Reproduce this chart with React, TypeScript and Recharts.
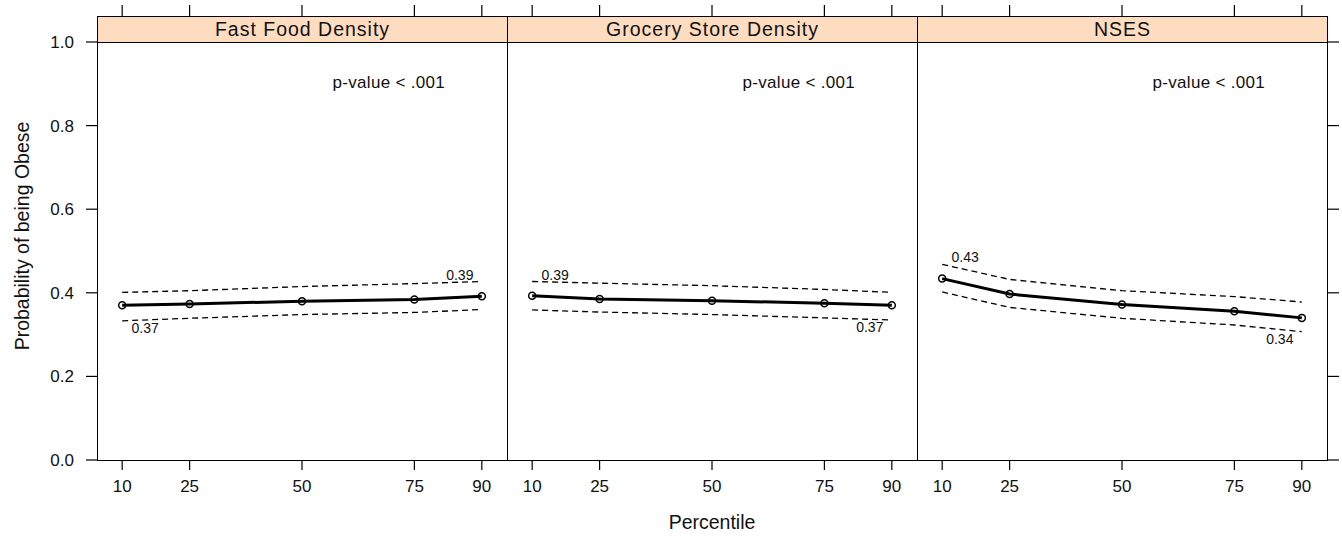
import { LineChart, Line, XAxis, YAxis, LabelList } from "recharts"

const percentiles = [10, 25, 50, 75, 90]
const yTicks = [0, 0.2, 0.4, 0.6, 0.8, 1.0]
const panelTitles = ["Fast Food Density", "Grocery Store Density", "NSES"]
const pValueText = "p-value < .001"

const fastFoodProb = [0.37, 0.373, 0.38, 0.384, 0.392]
const fastFoodUpper = [0.401, 0.405, 0.415, 0.422, 0.427]
const fastFoodLower = [0.333, 0.339, 0.348, 0.353, 0.36]
const fastFoodUpperLabels = ["", "", "", "", "0.39"]
const fastFoodLowerLabels = ["0.37", "", "", "", ""]

const groceryProb = [0.393, 0.385, 0.381, 0.375, 0.37]
const groceryUpper = [0.427, 0.423, 0.417, 0.408, 0.401]
const groceryLower = [0.359, 0.354, 0.348, 0.34, 0.335]
const groceryUpperLabels = ["0.39", "", "", "", ""]
const groceryLowerLabels = ["", "", "", "", "0.37"]

const nsesProb = [0.434, 0.397, 0.372, 0.356, 0.34]
const nsesUpper = [0.468, 0.432, 0.405, 0.391, 0.378]
const nsesLower = [0.402, 0.365, 0.339, 0.323, 0.307]
const nsesUpperLabels = ["0.43", "", "", "", ""]
const nsesLowerLabels = ["", "", "", "", "0.34"]

const FONT = '"Liberation Sans", Arial, sans-serif'
const STRIP = "#fddcbf"
const PLOT_LEFT = 97
const PANEL_W = 410
const PLOT_TOP = 42
const PLOT_H = 418
const STRIP_H = 26
const CHART_W = 522
const CHART_H = 538

const buildRows = (p: number[], up: number[], lo: number[], upL: string[], loL: string[]) =>
  percentiles.map((pct, i) => ({ pct, p: p[i], up: up[i], lo: lo[i], upL: upL[i], loL: loL[i] }))

const panels = [
  buildRows(fastFoodProb, fastFoodUpper, fastFoodLower, fastFoodUpperLabels, fastFoodLowerLabels),
  buildRows(groceryProb, groceryUpper, groceryLower, groceryUpperLabels, groceryLowerLabels),
  buildRows(nsesProb, nsesUpper, nsesLower, nsesUpperLabels, nsesLowerLabels),
]

const TopTick = (props: any) => {
  const { x, y } = props
  return <line x1={x} x2={x} y1={y - STRIP_H} y2={y - STRIP_H - 11} stroke="#000" strokeWidth={1.2} />
}

const EmptyTick = () => <g />

const bandLabel = (side: "up" | "lo") => (props: any) => {
  const { x, y, value, index } = props
  if (!value) return null
  const dx = index === 0 ? 23 : -22
  const dy = side === "up" ? -7 : 7
  return (
    <text x={x + dx} y={y + dy + 5} textAnchor="middle" fontSize={14} fontFamily={FONT} fill="#111">
      {value}
    </text>
  )
}

function Panel({ rows, idx }: { rows: any[]; idx: number }) {
  const first = idx === 0
  const last = idx === 2
  const yW = first ? 60 : last ? 13 : 0
  const mLeft = first ? PLOT_LEFT - yW : PLOT_LEFT
  const mRight = CHART_W - PLOT_LEFT - PANEL_W - (last ? yW : 0)
  return (
    <div style={{ position: "absolute", left: PANEL_W * idx, top: 0 }}>
      <LineChart
        width={CHART_W}
        height={CHART_H}
        data={rows}
        margin={{ top: PLOT_TOP - STRIP_H, right: mRight, bottom: CHART_H - PLOT_TOP - PLOT_H - 30, left: mLeft }}
      >
        <XAxis
          xAxisId="b"
          dataKey="pct"
          type="number"
          domain={[4.4, 95.6]}
          ticks={percentiles}
          allowDataOverflow
          height={30}
          axisLine={false}
          tickSize={10}
          tickMargin={10}
          tickLine={{ stroke: "#000", strokeWidth: 1.2 }}
          tick={{ fill: "#111", fontSize: 17, fontFamily: FONT }}
        />
        <XAxis
          xAxisId="t"
          orientation="top"
          dataKey="pct"
          type="number"
          domain={[4.4, 95.6]}
          ticks={percentiles}
          allowDataOverflow
          height={STRIP_H}
          axisLine={false}
          tickLine={false}
          tickSize={0}
          tickMargin={0}
          tick={<TopTick />}
        />
        <YAxis
          yAxisId="y"
          orientation={last ? "right" : "left"}
          hide={!first && !last}
          type="number"
          domain={[0, 1]}
          ticks={yTicks}
          width={yW}
          axisLine={false}
          tickSize={last ? 12 : 11}
          tickMargin={12}
          tickLine={{ stroke: "#000", strokeWidth: 1.2 }}
          tick={last ? <EmptyTick /> : { fill: "#111", fontSize: 17, fontFamily: FONT }}
          tickFormatter={(v: number) => v.toFixed(1)}
        />
        <Line
          xAxisId="b"
          yAxisId="y"
          dataKey="up"
          stroke="#000"
          strokeWidth={1.3}
          strokeDasharray="6 4"
          dot={false}
          isAnimationActive={false}
        >
          <LabelList dataKey="upL" content={bandLabel("up")} />
        </Line>
        <Line
          xAxisId="b"
          yAxisId="y"
          dataKey="lo"
          stroke="#000"
          strokeWidth={1.3}
          strokeDasharray="6 4"
          dot={false}
          isAnimationActive={false}
        >
          <LabelList dataKey="loL" content={bandLabel("lo")} />
        </Line>
        <Line
          xAxisId="b"
          yAxisId="y"
          dataKey="p"
          stroke="#000"
          strokeWidth={3}
          dot={{ r: 3.5, fill: "none", stroke: "#000", strokeWidth: 1.5 }}
          isAnimationActive={false}
        />
      </LineChart>
    </div>
  )
}

export default function App() {
  return (
    <div style={{ position: "relative", width: 1342, height: 538, overflow: "hidden", background: "#fff", fontFamily: FONT }}>
      <style>{"body{margin:0}"}</style>
      {panelTitles.map((t, i) => (
        <div key={"s" + t}>
          <div
            style={{
              position: "absolute",
              left: PLOT_LEFT + PANEL_W * i,
              top: PLOT_TOP - STRIP_H,
              width: PANEL_W + 1,
              height: STRIP_H + 1,
              boxSizing: "border-box",
              border: "1.3px solid #000",
              background: STRIP,
              textAlign: "center",
              fontSize: 19.5,
              lineHeight: STRIP_H - 1 + "px",
              color: "#111",
              letterSpacing: 1,
            }}
          >
            {t}
          </div>
          <div
            style={{
              position: "absolute",
              left: PLOT_LEFT + PANEL_W * i,
              top: PLOT_TOP,
              width: PANEL_W + 1,
              height: PLOT_H + 1,
              boxSizing: "border-box",
              border: "1.3px solid #000",
              borderTop: "none",
            }}
          />
          <div
            style={{
              position: "absolute",
              left: PLOT_LEFT + PANEL_W * i,
              top: 73,
              width: PANEL_W - 62,
              textAlign: "right",
              fontSize: 17,
              color: "#111",
              whiteSpace: "pre",
              letterSpacing: 0.3,
            }}
          >
            {pValueText}
          </div>
        </div>
      ))}
      {panels.map((rows, i) => (
        <Panel key={i} rows={rows} idx={i} />
      ))}
      <div
        style={{
          position: "absolute",
          left: 22,
          top: 236,
          transform: "translate(-50%, -50%) rotate(-90deg)",
          fontSize: 19.5,
          color: "#111",
          whiteSpace: "nowrap",
        }}
      >
        Probability of being Obese
      </div>
      <div
        style={{
          position: "absolute",
          left: 712,
          top: 522,
          transform: "translate(-50%, -50%)",
          fontSize: 19.5,
          color: "#111",
          whiteSpace: "nowrap",
        }}
      >
        Percentile
      </div>
    </div>
  )
}
